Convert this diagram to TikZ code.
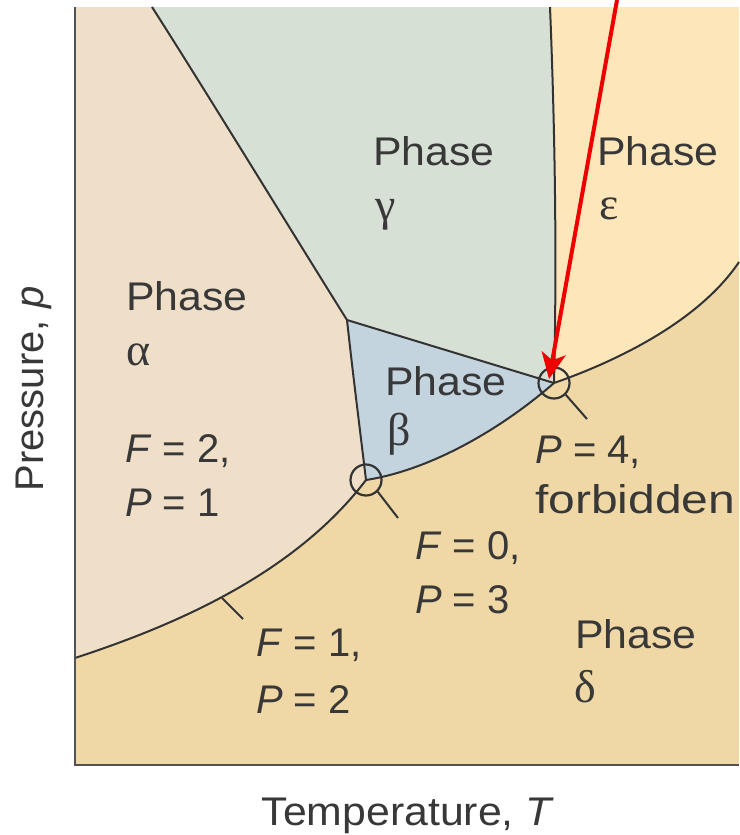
\documentclass[tikz,border=0pt]{standalone}
\usepackage{fontspec}
\setmainfont{Liberation Sans}
\newfontfamily\grk{Liberation Serif}
\usetikzlibrary{arrows.meta}
\definecolor{cA}{HTML}{EFDFC8}
\definecolor{cG}{HTML}{D7E0D5}
\definecolor{cE}{HTML}{FDE6BA}
\definecolor{cB}{HTML}{C4D4DE}
\definecolor{cD}{HTML}{EFD8A6}
\definecolor{ln}{HTML}{333333}
\definecolor{txt}{HTML}{383838}
\definecolor{arr}{HTML}{EE0000}
\begin{document}
\begin{tikzpicture}[x=1pt,y=-1pt,
  lbl/.style={anchor=base west, inner sep=0pt, font=\fontsize{40}{40}\selectfont, text=txt},
  phs/.style={lbl, font=\fontsize{40}{40}\selectfont\addfontfeature{FakeStretch=1.07}},
  gk/.style={anchor=base west, inner sep=0pt, font=\fontsize{46}{46}\selectfont\grk, text=txt},
  bnd/.style={draw=ln, line width=2pt},
  ring/.style={circle, draw=ln, line width=2.2pt, minimum size=31pt, inner sep=0pt},
  axl/.style={draw=ln!85, line width=2.5pt},
]
\useasboundingbox (0,0) rectangle (739,835);
% key points
\coordinate (tl) at (75,7);
\coordinate (tr) at (739,7);
\coordinate (br) at (739,765);
\coordinate (bl) at (75,765);
\coordinate (p1) at (152,7);
\coordinate (p2) at (550,7);
\coordinate (C) at (347,320);
\coordinate (B) at (554,383);
\coordinate (A) at (366,480);
\coordinate (L) at (75,658);
\coordinate (R) at (739,262);
% regions
\fill[cD] (tl) rectangle (br);
\fill[cA] (tl) -- (p1) .. controls (202,85) and (300,245) .. (C)
  .. controls (353,375) and (360,430) .. (A)
  .. controls (290,580) and (160,630) .. (L) -- cycle;
\fill[cG] (p1) -- (p2) .. controls (555,130) and (557,260) .. (B)
  -- (C) .. controls (300,245) and (202,85) .. (p1) -- cycle;
\fill[cB] (C) -- (B) .. controls (500,430) and (430,470) .. (A)
  .. controls (360,430) and (353,375) .. (C) -- cycle;
\fill[cE] (p2) -- (tr) -- (R) .. controls (700,320) and (620,360) .. (B)
  .. controls (557,260) and (555,130) .. (p2) -- cycle;
% boundaries
\draw[bnd] (p1) .. controls (202,85) and (300,245) .. (C);
\draw[bnd] (p2) .. controls (555,130) and (557,260) .. (B);
\draw[bnd] (C) -- (B);
\draw[bnd] (C) .. controls (353,375) and (360,430) .. (A);
\draw[bnd] (A) .. controls (430,470) and (500,430) .. (B);
\draw[bnd] (B) .. controls (620,360) and (700,320) .. (R);
\draw[bnd] (L) .. controls (160,630) and (290,580) .. (A);
% axes
\draw[axl] (tl) -- (bl) -- (br);
% rings and ticks
\node[ring] (ringA) at (A) {};
\node[ring] (ringB) at (B) {};
\coordinate (tickA) at (398,518);
\coordinate (tickB) at (587,419);
\coordinate (tick1s) at (222,598);
\coordinate (tick1e) at (243,619);
\draw[bnd] (ringA.-45) -- (tickA);
\draw[bnd] (ringB.-45) -- (tickB);
\draw[bnd] (tick1s) -- (tick1e);
% labels
\node[phs] (tg) at (373,165) {Phase};
\node[gk] (gg) at (375,220) {γ};
\node[phs] (te) at (597,165) {Phase};
\node[gk] (ge) at (599,219) {ε};
\node[phs] (ta) at (126,310) {Phase};
\node[gk] (ga) at (126,365) {α};
\node[lbl] (fa) at (125,462) {\textit{F} = 2,};
\node[lbl] (pa) at (125,516) {\textit{P} = 1};
\node[phs] (tb) at (385,395) {Phase};
\node[gk] (gb) at (387,445) {β};
\node[lbl] (p4) at (535,463) {\textit{P} = 4,};
\node[lbl, font=\fontsize{40}{40}\selectfont\addfontfeature{FakeStretch=1.2}] (fb) at (535,513) {forbidden};
\node[lbl] (f0) at (415,559) {\textit{F} = 0,};
\node[lbl] (p3) at (415,613) {\textit{P} = 3};
\node[lbl] (f1) at (256,656) {\textit{F} = 1,};
\node[lbl] (p2l) at (256,713) {\textit{P} = 2};
\node[phs] (td) at (575,648) {Phase};
\node[gk] (gd) at (574,702) {δ};
\node[anchor=base, inner sep=0pt, font=\fontsize{40}{40}\selectfont\addfontfeature{FakeStretch=1.07}, text=txt] (xl) at (408,825) {Temperature, \textit{T}};
\node[anchor=base, rotate=90, inner sep=0pt, font=\fontsize{40}{40}\selectfont, text=txt] (yl) at (43,389) {Pressure, \textit{p}};
% red arrow
\coordinate (as) at (617,0);
\coordinate (ae) at (549,379);
\draw[arr, line width=4pt, -{Stealth[length=26pt,width=24pt,inset=7pt]}] (as) -- (ae);
\end{tikzpicture}
\end{document}
